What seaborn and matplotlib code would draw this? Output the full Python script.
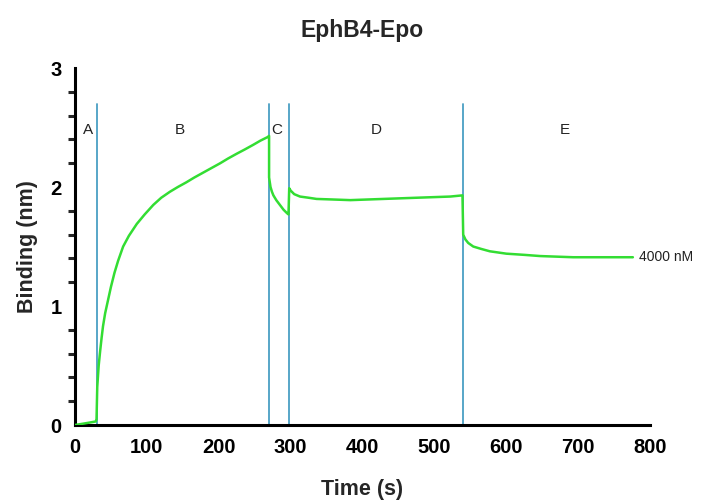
import matplotlib
matplotlib.use("Agg")
import matplotlib.pyplot as plt
from matplotlib.ticker import MultipleLocator
import seaborn as sns
import pandas as pd

# Sensorgram readings (time in s, binding in nm)
time_s = [0, 15, 29, 30, 31, 33, 35, 37, 39, 42, 46, 50, 55, 60, 67, 75, 86, 97, 109, 120, 132, 143,
          155, 166, 178, 190, 202, 213, 225, 236, 248, 258, 268, 270,
          270, 272, 274, 276, 280, 285, 290, 295, 297,
          298, 300, 305, 313, 325, 336, 360, 383, 429, 475, 522, 539,
          540, 543, 547, 554, 565, 577, 600, 625, 647, 693, 740, 776]
binding_nm = [0.0, 0.015, 0.03, 0.05, 0.32, 0.50, 0.62, 0.73, 0.83, 0.94, 1.05, 1.16, 1.28, 1.38, 1.50, 1.59, 1.69, 1.77, 1.85, 1.91, 1.96, 2.00,
              2.04, 2.08, 2.12, 2.16, 2.20, 2.24, 2.28, 2.315, 2.355, 2.39, 2.42, 2.43,
              2.08, 2.00, 1.96, 1.93, 1.89, 1.85, 1.81, 1.78, 1.77,
              1.99, 1.97, 1.94, 1.92, 1.91, 1.90, 1.895, 1.89, 1.90, 1.91, 1.92, 1.93,
              1.60, 1.56, 1.53, 1.50, 1.48, 1.46, 1.44, 1.43, 1.42, 1.41, 1.41, 1.41]
# step boundaries and labels
step_bounds = [30, 270, 298, 540]
step_labels = ["A", "B", "C", "D", "E"]
step_label_x = [18, 146, 281, 419, 682]
series_label = "4000 nM"

sns.set_theme(style="white")
plt.rcParams["font.family"] = ["Liberation Sans", "DejaVu Sans"]

df = pd.DataFrame({"Time (s)": time_s, "Binding (nm)": binding_nm})

fig = plt.figure(figsize=(7.16, 5.04), dpi=100)
ax = fig.add_axes([0.1047, 0.1567, 0.8033, 0.7083])

for xb in step_bounds:
    ax.plot([xb, xb], [0, 2.7], color="#4a9fc4", lw=1.3, zorder=2)

sns.lineplot(data=df, x="Time (s)", y="Binding (nm)", sort=False, estimator=None,
             color="#33dd33", lw=1.8, ax=ax, zorder=3)

for lab, lx in zip(step_labels, step_label_x):
    ax.text(lx, 2.48, lab, ha="center", va="center", fontsize=11, color="#222222")

ax.text(time_s[-1] + 8, binding_nm[-1], series_label, ha="left", va="center", fontsize=10,
        color="#222222", clip_on=False)

ax.set_xlim(0, 800)
ax.set_ylim(0, 3)
ax.xaxis.set_major_locator(MultipleLocator(100))
ax.yaxis.set_major_locator(MultipleLocator(1))
ax.yaxis.set_minor_locator(MultipleLocator(0.2))

sns.despine(ax=ax)
for s in ["left", "bottom"]:
    ax.spines[s].set_linewidth(2.2)
    ax.spines[s].set_color("black")

ax.tick_params(axis="both", which="major", direction="out", length=7.5, width=2.2,
               labelsize=14.5, colors="black", pad=2)
ax.tick_params(axis="y", which="minor", direction="out", length=5, width=2.2, left=True)
ax.tick_params(axis="x", which="minor", bottom=False)
for t in ax.get_xticklabels() + ax.get_yticklabels():
    t.set_fontweight("bold")

ax.set_xlabel("Time (s)", fontsize=15.5, fontweight="bold", labelpad=16)
ax.set_ylabel("Binding (nm)", fontsize=15.5, fontweight="bold", labelpad=9)
ax.set_title("EphB4-Epo", fontsize=16.5, fontweight="bold", pad=22)

fig.savefig("out.png", dpi=100)
